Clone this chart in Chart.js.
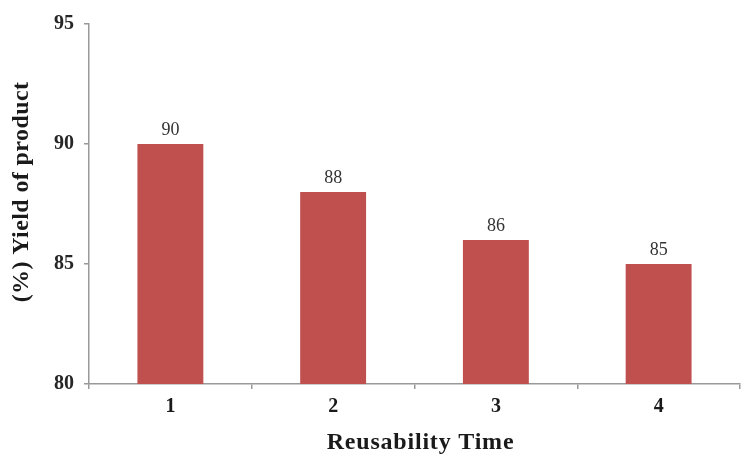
<!DOCTYPE html>
<html>
<head>
<meta charset="utf-8">
<script src="https://cdn.jsdelivr.net/npm/chart.js@4/dist/chart.umd.min.js"></script>
<style>
  html, body { margin: 0; padding: 0; background: #ffffff; }
  #wrap { width: 744px; height: 458px; }
</style>
</head>
<body>
<div id="wrap"><canvas id="chart" width="744" height="458"></canvas></div>
<script>
// Product yield over successive reuse cycles
const categories = ['1', '2', '3', '4'];
const yieldValues = [90, 88, 86, 85];
const yTicks = [80, 85, 90, 95];
const xTitle = 'Reusability Time';
const yTitle = '(%) Yield of product';

const SERIF = '"Liberation Serif", "Times New Roman", serif';

// Writes each bar's value just above it
const valueLabels = {
  id: 'valueLabels',
  afterDatasetsDraw(chart) {
    const ctx = chart.ctx;
    const meta = chart.getDatasetMeta(0);
    const data = chart.data.datasets[0].data;
    ctx.save();
    ctx.font = '18px ' + SERIF;
    ctx.fillStyle = '#333333';
    ctx.textAlign = 'center';
    ctx.textBaseline = 'alphabetic';
    meta.data.forEach((bar, i) => {
      ctx.fillText(String(data[i]), bar.x, bar.y - 9);
    });
    ctx.restore();
  }
};

// Axis titles in a slightly tracked bold serif
const axisTitles = {
  id: 'axisTitles',
  afterDraw(chart) {
    const ctx = chart.ctx;
    const area = chart.chartArea;
    ctx.save();
    ctx.fillStyle = '#1a1a1a';
    ctx.font = 'bold 24px ' + SERIF;
    ctx.textAlign = 'center';
    ctx.textBaseline = 'middle';

    ctx.letterSpacing = '0.8px';
    ctx.fillText(xTitle, (area.left + area.right) / 2 + 6, chart.height - 15);

    ctx.letterSpacing = '0.4px';
    ctx.translate(22, (area.top + area.bottom) / 2 - 12);
    ctx.rotate(-Math.PI / 2);
    ctx.fillText(yTitle, 0, 0);
    ctx.restore();
  }
};

new Chart(document.getElementById('chart'), {
  type: 'bar',
  data: {
    labels: categories,
    datasets: [{
      data: yieldValues,
      backgroundColor: '#C0504D',
      borderWidth: 0,
      barPercentage: 0.405,
      categoryPercentage: 1.0
    }]
  },
  options: {
    responsive: false,
    animation: false,
    devicePixelRatio: 1,
    layout: { padding: { top: 24, right: 4, bottom: 0, left: 0 } },
    plugins: {
      legend: { display: false },
      tooltip: { enabled: false }
    },
    scales: {
      x: {
        grid: {
          display: true,
          drawOnChartArea: false,
          drawTicks: true,
          tickLength: 5,
          color: '#999999',
          lineWidth: 1.5
        },
        border: { display: true, color: '#999999', width: 1.5 },
        ticks: {
          color: '#1a1a1a',
          padding: 6,
          font: { family: SERIF, size: 20, weight: 'bold' }
        },
        afterFit(scale) { scale.height = 74; }
      },
      y: {
        min: yTicks[0],
        max: yTicks[yTicks.length - 1],
        afterBuildTicks(scale) {
          scale.ticks = yTicks.map(v => ({ value: v }));
        },
        grid: {
          display: true,
          drawOnChartArea: false,
          drawTicks: true,
          tickLength: 5,
          color: '#999999',
          lineWidth: 1.5
        },
        border: { display: true, color: '#999999', width: 1.5 },
        ticks: {
          color: '#262626',
          padding: 10,
          font: { family: SERIF, size: 20, weight: 'bold' }
        },
        afterFit(scale) { scale.width = 89; }
      }
    }
  },
  plugins: [valueLabels, axisTitles]
});
</script>
</body>
</html>
